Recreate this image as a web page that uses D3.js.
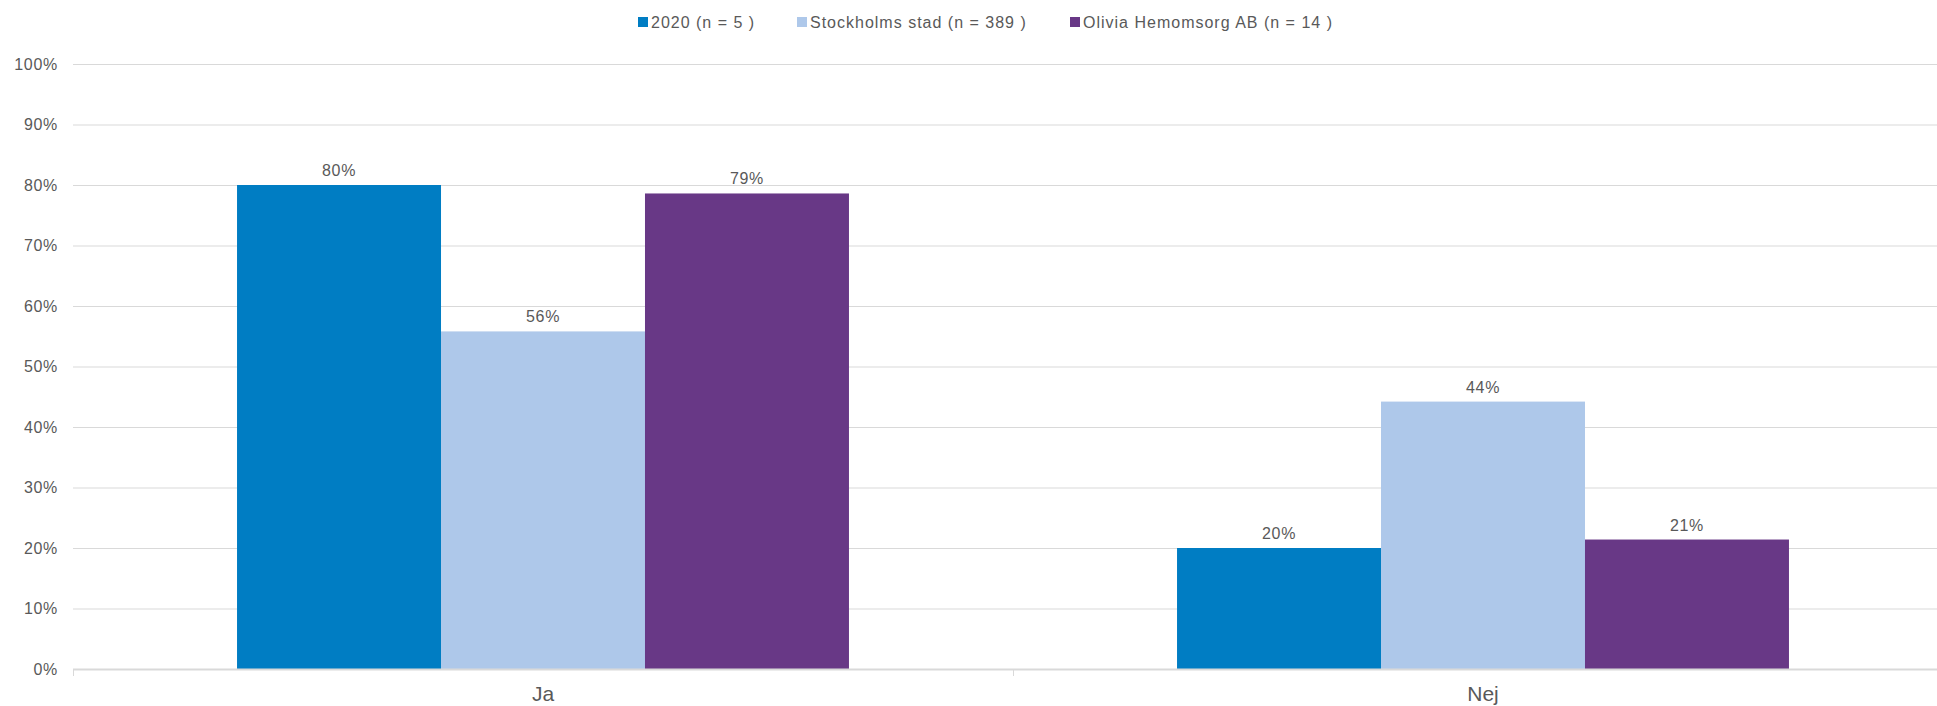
<!DOCTYPE html>
<html lang="sv">
<head>
    <meta charset="UTF-8">
    <title>Ja / Nej</title>
    <script src="https://d3js.org/d3.v7.min.js"></script>
    <style>
        body { margin: 0; background: #fff; }
        text { font-family: "Liberation Sans", Arial, sans-serif; fill: #595959; }
    </style>
</head>
<body>
    <div id="chart"></div>
    <script>
        // data
        const categories = ["Ja", "Nej"];
        const seriesNames = ["2020 (n = 5 )", "Stockholms stad (n = 389 )", "Olivia Hemomsorg AB (n = 14 )"];
        const seriesColors = ["#007dc3", "#aec8ea", "#683886"];
        const values2020 = [80, 20];
        const valuesStockholm = [55.8, 44.2];
        const valuesOlivia = [78.6, 21.4];
        const yTicks = [0, 10, 20, 30, 40, 50, 60, 70, 80, 90, 100];

        const allSeries = [values2020, valuesStockholm, valuesOlivia];

        const width = 1937, height = 706;
        const plotLeft = 73, plotRight = 1953, plotTop = 64, plotBottom = 669;

        const svg = d3.select("#chart").append("svg")
            .attr("width", width)
            .attr("height", height);

        const x0 = d3.scaleBand()
            .domain(categories)
            .range([plotLeft, plotRight])
            .paddingInner(0.349)
            .paddingOuter(0.1745);

        const x1 = d3.scaleBand()
            .domain(d3.range(seriesNames.length))
            .range([0, x0.bandwidth()]);

        const y = d3.scaleLinear()
            .domain([0, 100])
            .range([plotBottom, plotTop]);

        // gridlines
        svg.append("g")
            .selectAll("line")
            .data(yTicks.filter(t => t > 0))
            .enter().append("line")
            .attr("x1", plotLeft)
            .attr("x2", plotRight)
            .attr("y1", d => y(d) + 0.5)
            .attr("y2", d => y(d) + 0.5)
            .attr("stroke", "#d9d9d9")
            .attr("stroke-width", 1);

        // y labels
        svg.append("g")
            .selectAll("text")
            .data(yTicks)
            .enter().append("text")
            .attr("x", 58)
            .attr("y", d => y(d))
            .attr("dy", "0.35em")
            .attr("text-anchor", "end")
            .style("font-size", "16px")
            .style("letter-spacing", "0.7px")
            .text(d => d + "%");

        // bars
        const groups = svg.append("g")
            .selectAll("g")
            .data(categories)
            .enter().append("g")
            .attr("transform", d => `translate(${x0(d)},0)`);

        groups.selectAll("rect")
            .data((c, ci) => allSeries.map((s, si) => ({ si, v: s[ci] })))
            .enter().append("rect")
            .attr("x", d => x1(d.si))
            .attr("width", x1.bandwidth())
            .attr("y", d => y(d.v))
            .attr("height", d => y(0) - y(d.v))
            .attr("fill", d => seriesColors[d.si]);

        groups.selectAll("text")
            .data((c, ci) => allSeries.map((s, si) => ({ si, v: s[ci] })))
            .enter().append("text")
            .attr("x", d => x1(d.si) + x1.bandwidth() / 2)
            .attr("y", d => y(d.v) - 9)
            .attr("text-anchor", "middle")
            .style("font-size", "16px")
            .style("letter-spacing", "0.7px")
            .text(d => Math.round(d.v) + "%");

        // x axis line + ticks
        svg.append("line")
            .attr("x1", plotLeft)
            .attr("x2", plotRight)
            .attr("y1", plotBottom + 0.5)
            .attr("y2", plotBottom + 0.5)
            .attr("stroke", "#d9d9d9")
            .attr("stroke-width", 2);

        const tickXs = [plotLeft].concat(categories.map(c => x0(c) + x0.bandwidth() / 2 + x0.step() / 2));
        svg.append("g")
            .selectAll("line")
            .data(tickXs)
            .enter().append("line")
            .attr("x1", d => d + 0.5)
            .attr("x2", d => d + 0.5)
            .attr("y1", plotBottom)
            .attr("y2", plotBottom + 7)
            .attr("stroke", "#d9d9d9");

        svg.append("g")
            .selectAll("text")
            .data(categories)
            .enter().append("text")
            .attr("x", d => x0(d) + x0.bandwidth() / 2)
            .attr("y", 701)
            .attr("text-anchor", "middle")
            .style("font-size", "21px")
            .text(d => d);

        // legend
        const legendX = [638, 797, 1070];
        const legend = svg.append("g")
            .selectAll("g")
            .data(seriesNames)
            .enter().append("g")
            .attr("transform", (d, i) => `translate(${legendX[i]},22)`);

        legend.append("rect")
            .attr("x", 0)
            .attr("y", -5)
            .attr("width", 10)
            .attr("height", 10)
            .attr("fill", (d, i) => seriesColors[i]);

        legend.append("text")
            .attr("x", 13)
            .attr("y", 6)
            .style("font-size", "16px")
            .style("letter-spacing", "1px")
            .text(d => d);
    </script>
</body>
</html>
